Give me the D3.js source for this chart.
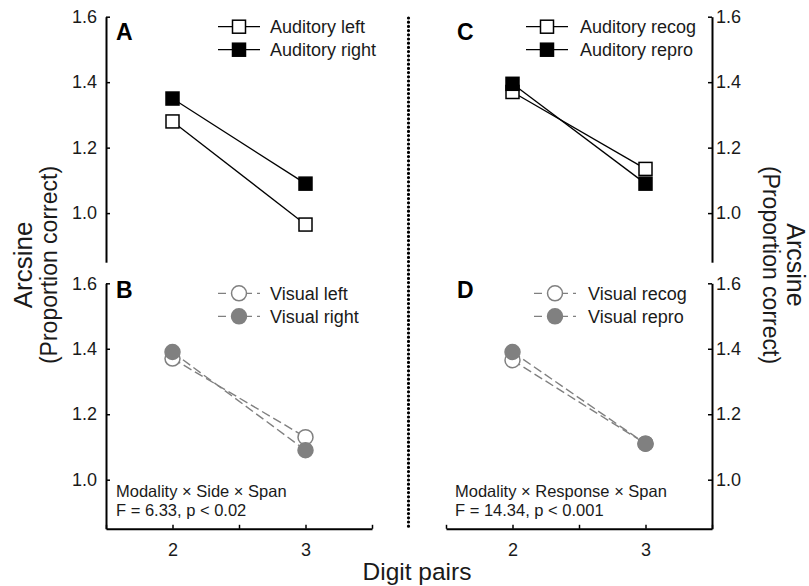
<!DOCTYPE html>
<html>
<head>
<meta charset="utf-8">
<script src="https://cdn.jsdelivr.net/npm/d3@7"></script>
<style>
  body { margin: 0; background: #fff; }
  svg { font-family: "Liberation Sans", Arial, sans-serif; }
  .tick text { font-size: 18px; fill: #1a1a1a; }
</style>
</head>
<body>
<div id="chart"></div>
<script>
// values (arcsine of proportion correct)
const digitPairs = [2, 3];
const auditoryLeft = [1.28, 0.965];
const auditoryRight = [1.35, 1.09];
const visualLeft = [1.37, 1.13];
const visualRight = [1.39, 1.09];
const auditoryRecog = [1.37, 1.135];
const auditoryRepro = [1.395, 1.09];
const visualRecog = [1.365, 1.11];
const visualRepro = [1.39, 1.11];
const yTicks = [1.0, 1.2, 1.4, 1.6];
const xTicks = [1.5, 2, 2.5, 3, 3.5];

const width = 809, height = 586;
const grey = '#808080';

const svg = d3.select('#chart').append('svg')
    .attr('width', width)
    .attr('height', height);

const panels = [
    {id: 'A', side: 'left', top: 16.7, xAxis: false, label: [116, 40],
     legend: {mx: 239, tx: 270}, kind: 'square',
     series: [{name: 'Auditory left', values: auditoryLeft, filled: false},
              {name: 'Auditory right', values: auditoryRight, filled: true}]},
    {id: 'B', side: 'left', top: 283.3, xAxis: true, label: [116, 298],
     legend: {mx: 239, tx: 270}, kind: 'circle',
     note: ['Modality \u00d7 Side \u00d7 Span', 'F = 6.33, p < 0.02'],
     series: [{name: 'Visual left', values: visualLeft, filled: false},
              {name: 'Visual right', values: visualRight, filled: true}]},
    {id: 'C', side: 'right', top: 16.7, xAxis: false, label: [457, 40],
     legend: {mx: 547, tx: 580}, kind: 'square',
     series: [{name: 'Auditory recog', values: auditoryRecog, filled: false},
              {name: 'Auditory repro', values: auditoryRepro, filled: true}]},
    {id: 'D', side: 'right', top: 283.3, xAxis: true, label: [457, 298],
     legend: {mx: 555, tx: 588}, kind: 'circle',
     note: ['Modality \u00d7 Response \u00d7 Span', 'F = 14.34, p < 0.001'],
     series: [{name: 'Visual recog', values: visualRecog, filled: false},
              {name: 'Visual repro', values: visualRepro, filled: true}]}
];

function marker(g, kind, filled, x, y) {
    if (kind === 'square') {
        g.append('rect')
            .attr('x', x - 6.5).attr('y', y - 6.5)
            .attr('width', 13).attr('height', 13)
            .attr('fill', filled ? '#000' : '#fff')
            .attr('stroke', '#000')
            .attr('stroke-width', 1.5);
    } else {
        g.append('circle')
            .attr('cx', x).attr('cy', y).attr('r', 7.5)
            .attr('fill', filled ? grey : '#fff')
            .attr('stroke', grey)
            .attr('stroke-width', 1.5);
    }
}

panels.forEach(p => {
    const xRange = p.side === 'left' ? [106, 372] : [446, 712];
    const x = d3.scaleLinear().domain([1.5, 3.5]).range(xRange);
    const y = d3.scaleLinear().domain([0.85, 1.6]).range([p.top + 245.5, p.top]);
    const g = svg.append('g');
    const dashed = p.kind === 'circle';
    const lineColor = dashed ? grey : '#000';

    // y axis
    const yAxis = p.side === 'left' ? d3.axisLeft(y) : d3.axisRight(y);
    const ya = g.append('g')
        .attr('transform', `translate(${p.side === 'left' ? xRange[0] : xRange[1]},0)`)
        .call(yAxis.tickValues(yTicks).tickFormat(d3.format('.1f'))
            .tickSizeInner(-4).tickSizeOuter(0).tickPadding(p.side === 'left' ? 9 : 4));
    ya.select('.domain').attr('stroke-width', 2);
    ya.selectAll('.tick line').attr('stroke-width', 1.5);

    // x axis
    if (p.xAxis) {
        const xa = g.append('g')
            .attr('transform', `translate(0,${y(0.85)})`)
            .call(d3.axisBottom(x).tickValues(xTicks)
                .tickFormat(d => digitPairs.includes(d) ? d : '')
                .tickSizeInner(-4).tickSizeOuter(0).tickPadding(14));
        xa.select('.domain').attr('stroke-width', 2);
        xa.selectAll('.tick line').attr('stroke-width', 1.5);
    }

    // lines
    const line = d3.line().x((d, i) => x(digitPairs[i])).y(d => y(d));
    p.series.forEach(s => {
        g.append('path')
            .attr('d', line(s.values))
            .attr('fill', 'none')
            .attr('stroke', lineColor)
            .attr('stroke-width', dashed ? 1.4 : 1.3)
            .attr('stroke-dasharray', dashed ? '9,4' : null);
    });
    // markers
    p.series.forEach(s => {
        s.values.forEach((v, i) => marker(g, p.kind, s.filled, x(digitPairs[i]), y(v)));
    });

    // legend
    p.series.forEach((s, i) => {
        const ly = p.top + 10 + i * 23;
        g.append('line')
            .attr('x1', p.legend.mx - 21).attr('x2', p.legend.mx + 21)
            .attr('y1', ly).attr('y2', ly)
            .attr('stroke', lineColor)
            .attr('stroke-width', 1.3)
            .attr('stroke-dasharray', dashed ? '8,5' : null);
        marker(g, p.kind, s.filled, p.legend.mx, ly);
        g.append('text')
            .attr('x', p.legend.tx).attr('y', ly)
            .attr('dy', '0.35em')
            .attr('font-size', 18)
            .attr('fill', '#1a1a1a')
            .text(s.name);
    });

    // panel letter
    g.append('text')
        .attr('x', p.label[0]).attr('y', p.label[1])
        .attr('font-size', 23)
        .attr('font-weight', 'bold')
        .text(p.id);

    // statistics note
    if (p.note) {
        p.note.forEach((t, i) => {
            g.append('text')
                .attr('x', xRange[0] + (p.side === 'left' ? 10 : 9))
                .attr('y', 497 + i * 19)
                .attr('font-size', 16.5)
                .attr('fill', '#1a1a1a')
                .text(t);
        });
    }
});

// dotted separator
svg.append('line')
    .attr('x1', 408.5).attr('x2', 408.5)
    .attr('y1', 18).attr('y2', 528)
    .attr('stroke', '#000')
    .attr('stroke-width', 3.2)
    .attr('stroke-linecap', 'round')
    .attr('stroke-dasharray', '0,4.2');

// axis titles
const titles = svg.append('g').attr('fill', '#1a1a1a');
titles.append('text')
    .attr('transform', 'translate(32,265) rotate(-90)')
    .attr('text-anchor', 'middle').attr('font-size', 26)
    .text('Arcsine');
titles.append('text')
    .attr('transform', 'translate(57,265) rotate(-90)')
    .attr('text-anchor', 'middle').attr('font-size', 23)
    .text('(Proportion correct)');
titles.append('text')
    .attr('transform', 'translate(787,265) rotate(90)')
    .attr('text-anchor', 'middle').attr('font-size', 25)
    .text('Arcsine');
titles.append('text')
    .attr('transform', 'translate(763,265) rotate(90)')
    .attr('text-anchor', 'middle').attr('font-size', 23)
    .text('(Proportion correct)');
titles.append('text')
    .attr('x', 417).attr('y', 580)
    .attr('text-anchor', 'middle').attr('font-size', 24.5)
    .text('Digit pairs');
</script>
</body>
</html>
